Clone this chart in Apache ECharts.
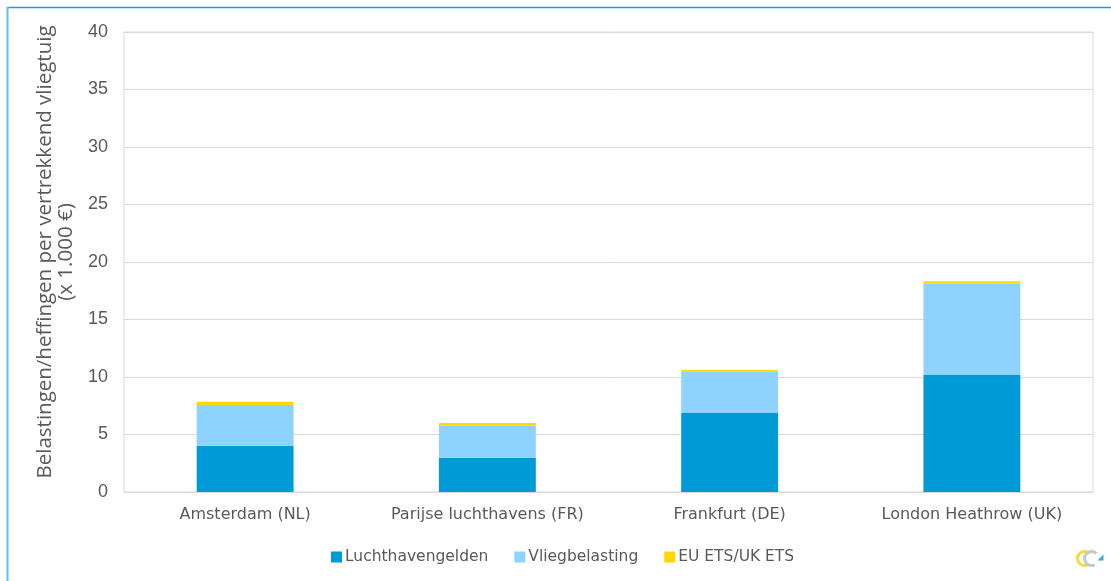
<!DOCTYPE html>
<html>
<head>
<meta charset="utf-8">
<script src="https://cdn.jsdelivr.net/npm/echarts@6/dist/echarts.min.js"></script>
<style>
  html, body { margin: 0; padding: 0; background: #fff; }
  #chart { width: 1111px; height: 581px; }
</style>
</head>
<body>
<div id="chart"></div>
<script>
// categorieën en waarden (x 1.000 €)
const categories = ['Amsterdam (NL)', 'Parijse luchthavens (FR)', 'Frankfurt (DE)', 'London Heathrow (UK)'];
const luchthavengelden = [4.03, 2.98, 6.87, 10.17];
const vliegbelasting = [3.54, 2.79, 3.63, 7.94];
const etsKosten = [0.28, 0.23, 0.11, 0.21];
const seriesNames = ['Luchthavengelden', 'Vliegbelasting', 'EU ETS/UK ETS'];
const yTicks = [0, 5, 10, 15, 20, 25, 30, 35, 40];

const colors = ['#009BD6', '#8ED3FF', '#FFD700'];
const textColor = '#595959';

const chart = echarts.init(document.getElementById('chart'));

function barSeries(name, data, color) {
    return {
        name: name,
        type: 'bar',
        stack: 'totaal',
        barWidth: '40%',
        data: data,
        itemStyle: { color: color },
        emphasis: { disabled: true }
    };
}

chart.setOption({
    animation: false,
    textStyle: { fontFamily: 'DejaVu Sans' },
    grid: {
        left: 124,
        right: 18,
        top: 32,
        bottom: 89,
        show: true,
        borderColor: '#d9d9d9',
        borderWidth: 1
    },
    legend: {
        bottom: 11,
        left: 326,
        itemWidth: 11,
        itemHeight: 11,
        itemGap: 26,
        icon: 'rect',
        textStyle: { color: textColor, fontSize: 15.5, padding: [0, 0, 0, -2] },
        data: seriesNames
    },
    xAxis: {
        type: 'category',
        data: categories,
        axisLine: { lineStyle: { color: '#d9d9d9' } },
        axisTick: { show: false },
        axisLabel: { color: textColor, fontSize: 16, margin: 15, interval: 0 }
    },
    yAxis: {
        type: 'value',
        min: yTicks[0],
        max: yTicks[yTicks.length - 1],
        interval: 5,
        name: 'Belastingen/heffingen per vertrekkend vliegtuig\n(x 1.000 €)',
        nameLocation: 'middle',
        nameGap: 46,
        nameTextStyle: {
            color: textColor,
            fontSize: 20.5,
            lineHeight: 21,
            fontFamily: 'Open Sans',
            padding: [0, 0, 0, 20]
        },
        axisLine: { show: false },
        axisTick: { show: false },
        splitLine: { lineStyle: { color: '#d9d9d9' } },
        axisLabel: {
            color: textColor,
            fontSize: 18,
            margin: 16,
            fontFamily: 'Liberation Sans'
        }
    },
    series: [
        barSeries(seriesNames[0], luchthavengelden, colors[0]),
        barSeries(seriesNames[1], vliegbelasting, colors[1]),
        barSeries(seriesNames[2], etsKosten, colors[2])
    ],
    graphic: [
        // kader van de figuur
        {
            type: 'line',
            shape: { x1: 7, y1: 7.5, x2: 1111, y2: 7.5 },
            style: { stroke: '#1E9BD7', lineWidth: 1.5 }
        },
        {
            type: 'line',
            shape: { x1: 7.5, y1: 7, x2: 7.5, y2: 581 },
            style: { stroke: '#5BC3EA', lineWidth: 2 }
        },
        // klein logo rechtsonder
        {
            type: 'group',
            left: 1075,
            top: 549,
            children: [
                {
                    type: 'arc',
                    shape: { cx: 8, cy: 10, r: 7, startAngle: Math.PI * 0.35, endAngle: Math.PI * 1.75 },
                    style: { stroke: '#F2DC3C', lineWidth: 3, fill: 'none' }
                },
                {
                    type: 'arc',
                    shape: { cx: 15, cy: 10, r: 7, startAngle: Math.PI * 0.35, endAngle: Math.PI * 1.75 },
                    style: { stroke: '#C8C8C8', lineWidth: 3, fill: 'none' }
                },
                {
                    type: 'polygon',
                    shape: { points: [[21, 12], [27, 12], [27, 6]] },
                    style: { fill: '#2BA9E0' }
                }
            ]
        }
    ]
});
</script>
</body>
</html>
